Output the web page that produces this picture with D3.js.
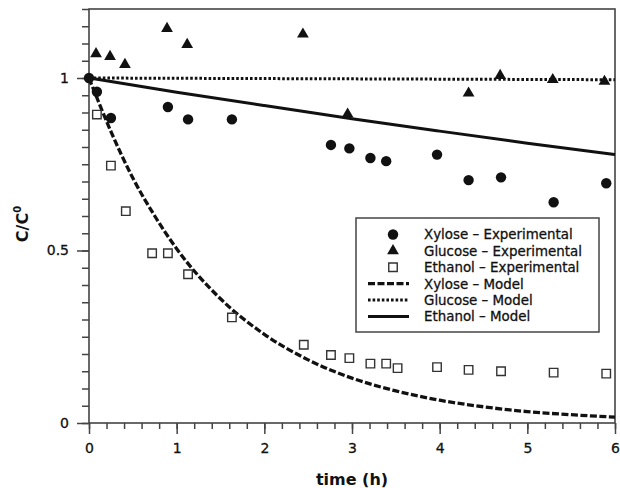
<!DOCTYPE html>
<html>
<head>
<meta charset="utf-8">
<script src="https://cdn.jsdelivr.net/npm/d3@7"></script>
<style>
  html, body { margin: 0; padding: 0; background: #fff; }
  svg { display: block; font-family: "DejaVu Sans", sans-serif; }
</style>
</head>
<body>
<div id="chart"></div>
<script>
"use strict";

// experimental points (time in h, C/C0)
const xyloseT = [0, 0.09, 0.25, 0.9, 1.13, 1.63, 2.76, 2.97, 3.21, 3.39, 3.97, 4.33, 4.7, 5.3, 5.9];
const xyloseC = [1.0, 0.96, 0.884, 0.916, 0.88, 0.88, 0.806, 0.796, 0.768, 0.759, 0.778, 0.704, 0.712, 0.64, 0.695];

const glucoseT = [0.08, 0.24, 0.41, 0.89, 1.12, 2.44, 2.95, 4.33, 4.69, 5.29, 5.88];
const glucoseC = [1.07, 1.062, 1.039, 1.143, 1.097, 1.127, 0.895, 0.956, 1.007, 0.995, 0.99];

const ethanolT = [0.09, 0.25, 0.42, 0.72, 0.9, 1.13, 1.63, 2.45, 2.76, 2.97, 3.21, 3.39, 3.52, 3.97, 4.33, 4.7, 5.3, 5.9];
const ethanolC = [0.894, 0.746, 0.614, 0.492, 0.492, 0.431, 0.306, 0.227, 0.197, 0.188, 0.172, 0.172, 0.159, 0.162, 0.154, 0.15, 0.146, 0.143];

// model curves
const xyloseModelT = [0, 0.25, 0.5, 0.75, 1, 1.5, 2, 2.5, 3, 3.5, 4, 4.5, 5, 5.5, 6];
const xyloseModelC = [1.0, 0.845, 0.71, 0.6, 0.505, 0.36, 0.257, 0.183, 0.13, 0.093, 0.066, 0.047, 0.033, 0.024, 0.017];

const glucoseModelT = [0, 6];
const glucoseModelC = [1.0, 0.995];

const ethanolModelT = [0, 1, 2, 3, 4, 5, 6];
const ethanolModelC = [1.0, 0.959, 0.92, 0.882, 0.846, 0.811, 0.778];

const xTicks = [0, 1, 2, 3, 4, 5, 6];
const yTicks = [0, 0.5, 1];
const yTickLabels = ["0", "0.5", "1"];

const legendLabels = [
  "Xylose \u2013 Experimental",
  "Glucose \u2013 Experimental",
  "Ethanol \u2013 Experimental",
  "Xylose \u2013 Model",
  "Glucose \u2013 Model",
  "Ethanol \u2013 Model",
];

const W = 620, H = 488;
const margin = { left: 89, right: 5, top: 9, bottom: 65 };
const frameColor = "#444";

const svg = d3.select("#chart").append("svg").attr("width", W).attr("height", H);

const x = d3.scaleLinear().domain([0, 6]).range([margin.left, W - margin.right]);
const y = d3.scaleLinear().domain([0, 1.2]).range([H - margin.bottom, margin.top]);

function pairs(ts, cs) {
  return ts.map((t, i) => [t, cs[i]]);
}

// minor ticks
const xMinor = d3.range(0, 6.0001, 0.2);
const yMinor = d3.range(0, 1.2001, 0.05);

svg.append("g")
  .attr("transform", `translate(0,${y(0)})`)
  .call(d3.axisBottom(x).tickValues(xMinor).tickSize(6).tickFormat(""))
  .call((g) => g.select(".domain").remove());
svg.append("g")
  .attr("transform", `translate(${x(0)},0)`)
  .call(d3.axisLeft(y).tickValues(yMinor).tickSize(7).tickFormat(""))
  .call((g) => g.select(".domain").remove());

// major ticks
const xAxis = svg.append("g")
  .attr("transform", `translate(0,${y(0)})`)
  .call(d3.axisBottom(x).tickValues(xTicks).tickSize(11).tickPadding(9).tickFormat(d3.format("d")));
xAxis.select(".domain").remove();

const yAxis = svg.append("g")
  .attr("transform", `translate(${x(0)},0)`)
  .call(d3.axisLeft(y).tickValues(yTicks).tickSize(12).tickPadding(8)
    .tickFormat((d, i) => yTickLabels[i]));
yAxis.select(".domain").remove();

svg.selectAll(".tick line").attr("stroke", frameColor).attr("stroke-width", 1.5);
svg.selectAll(".tick text").attr("font-size", 14).attr("fill", "#111")
  .attr("stroke", "#111").attr("stroke-width", 0.3)
  .attr("font-family", "DejaVu Sans, sans-serif");

// frame
svg.append("rect")
  .attr("x", x(0)).attr("y", y(1.2))
  .attr("width", x(6) - x(0)).attr("height", y(0) - y(1.2))
  .attr("fill", "none").attr("stroke", frameColor).attr("stroke-width", 1.6);

// model lines
const line = d3.line().x((d) => x(d[0])).y((d) => y(d[1])).curve(d3.curveMonotoneX);

const styles = {
  xylose: { dash: "7,2.5", width: 3.3 },
  glucose: { dash: "2.6,2", width: 3 },
  ethanol: { dash: null, width: 3 },
};

svg.append("path").datum(pairs(glucoseModelT, glucoseModelC))
  .attr("d", line).attr("fill", "none").attr("stroke", "#111")
  .attr("stroke-width", styles.glucose.width).attr("stroke-dasharray", styles.glucose.dash);
svg.append("path").datum(pairs(ethanolModelT, ethanolModelC))
  .attr("d", line).attr("fill", "none").attr("stroke", "#111")
  .attr("stroke-width", styles.ethanol.width);
svg.append("path").datum(pairs(xyloseModelT, xyloseModelC))
  .attr("d", line).attr("fill", "none").attr("stroke", "#111")
  .attr("stroke-width", styles.xylose.width).attr("stroke-dasharray", styles.xylose.dash);

// markers
const circleSym = d3.symbol().type(d3.symbolCircle).size(85);
const triSym = d3.symbol().type(d3.symbolTriangle).size(60);
const sqSym = d3.symbol().type(d3.symbolSquare).size(72);

function drawMarkers(data, sym, filled) {
  svg.append("g").selectAll("path").data(data).enter().append("path")
    .attr("d", sym)
    .attr("transform", (d) => `translate(${x(d[0])},${y(d[1])})`)
    .attr("fill", filled ? "#111" : "#fff")
    .attr("stroke", filled ? "none" : "#333")
    .attr("stroke-width", 1.4);
}

drawMarkers(pairs(ethanolT, ethanolC), sqSym, false);
drawMarkers(pairs(xyloseT, xyloseC), circleSym, true);
drawMarkers(pairs(glucoseT, glucoseC), triSym, true);

// axis titles
svg.append("text")
  .attr("x", (x(0) + x(6)) / 2).attr("y", 485)
  .attr("text-anchor", "middle").attr("font-size", 16).attr("font-weight", "bold")
  .attr("fill", "#111").text("time (h)");

const yTitle = svg.append("text")
  .attr("transform", "translate(28,224) rotate(-90)")
  .attr("text-anchor", "middle").attr("font-size", 16).attr("font-weight", "bold")
  .attr("fill", "#111");
yTitle.append("tspan").text("C/C");
yTitle.append("tspan").attr("font-size", 10).attr("dy", -7).text("0");

// legend
const legend = svg.append("g");
legend.append("rect")
  .attr("x", 356).attr("y", 218).attr("width", 243).attr("height", 114)
  .attr("fill", "#fff").attr("stroke", frameColor).attr("stroke-width", 1.5);

const rowY = (i) => 234.5 + i * 16.4;
const legendSyms = [circleSym, triSym, sqSym];
legendSyms.forEach((s, i) => {
  legend.append("path").attr("d", s)
    .attr("transform", `translate(393,${rowY(i)})`)
    .attr("fill", i === 2 ? "#fff" : "#111")
    .attr("stroke", i === 2 ? "#333" : "none").attr("stroke-width", 1.4);
});
[styles.xylose, styles.glucose, styles.ethanol].forEach((s, i) => {
  legend.append("line")
    .attr("x1", 368).attr("x2", 409)
    .attr("y1", rowY(i + 3)).attr("y2", rowY(i + 3))
    .attr("stroke", "#111").attr("stroke-width", s.width)
    .attr("stroke-dasharray", s.dash);
});
legend.selectAll("text.lab").data(legendLabels).enter().append("text")
  .attr("class", "lab")
  .attr("x", 424).attr("y", (d, i) => rowY(i) + 4.8)
  .attr("font-size", 13.4).attr("fill", "#111")
  .attr("stroke", "#111").attr("stroke-width", 0.3)
  .text((d) => d);
</script>
</body>
</html>
